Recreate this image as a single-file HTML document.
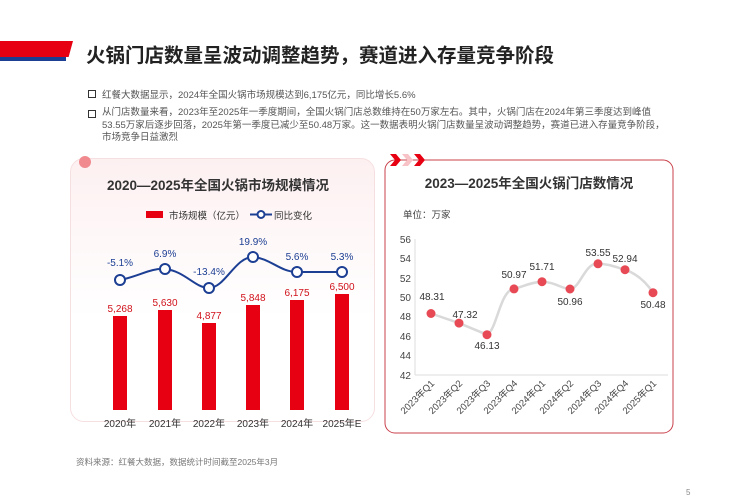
<!DOCTYPE html>
<html><head><meta charset="utf-8"><style>
body{margin:0;width:750px;height:500px;background:#fff;position:relative;overflow:hidden;font-family:"Liberation Sans","Noto Sans CJK SC",sans-serif;}
.abs{position:absolute}
.t{position:absolute;white-space:nowrap}
</style></head><body>
<div class="abs" style="left:0;top:41px;width:73px;height:16px;background:#e60012;clip-path:polygon(0 0,100% 0,94% 100%,0 100%)"></div>
<div class="abs" style="left:0;top:57px;width:66px;height:4px;background:#1c3f94"></div>
<div class="t" style="left:86px;top:39px;font-size:19.5px;font-weight:bold;color:#222">火锅门店数量呈波动调整趋势，赛道进入存量竞争阶段</div>

<div class="abs" style="left:88px;top:90px;width:6px;height:6px;border:1px solid #333"></div>
<div class="t" style="left:102px;top:87px;font-size:9.5px;color:#555">红餐大数据显示，2024年全国火锅市场规模达到6,175亿元，同比增长5.6%</div>
<div class="abs" style="left:88px;top:110px;width:6px;height:6px;border:1px solid #333"></div>
<div class="t" style="left:102px;top:107px;font-size:9.5px;color:#555;line-height:12.5px;white-space:normal;width:570px">从门店数量来看，2023年至2025年一季度期间，全国火锅门店总数维持在50万家左右。其中，火锅门店在2024年第三季度达到峰值53.55万家后逐步回落，2025年第一季度已减少至50.48万家。这一数据表明火锅门店数量呈波动调整趋势，赛道已进入存量竞争阶段，市场竞争日益激烈</div>

<!-- left card -->
<div class="abs" style="left:70px;top:158px;width:303px;height:262px;border-radius:14px;background:linear-gradient(#fdf0f1,#fff 60%);border:1px solid #f6dfe1"></div>
<div class="abs" style="left:79px;top:156px;width:12px;height:12px;border-radius:50%;background:#f08a8f"></div>
<div class="t" style="left:88px;top:174px;width:260px;text-align:center;font-size:13.5px;font-weight:bold;color:#333">2020—2025年全国火锅市场规模情况</div>
<svg class="abs" style="left:0;top:0" width="750" height="500">
<g font-family="Liberation Sans, Noto Sans CJK SC, sans-serif">
<rect x="146" y="211" width="17" height="7" fill="#e60012"/>
<text x="169" y="219" font-size="9.5" fill="#333">市场规模（亿元）</text>
<line x1="250" y1="214.5" x2="272" y2="214.5" stroke="#1c3f94" stroke-width="2"/>
<circle cx="261" cy="214.5" r="3.5" fill="#fff" stroke="#1c3f94" stroke-width="2"/>
<text x="274" y="219" font-size="9.5" fill="#333">同比变化</text>
<g fill="#e60012">
<rect x="113" y="316" width="14" height="94"/>
<rect x="158" y="310" width="14" height="100"/>
<rect x="202" y="323" width="14" height="87"/>
<rect x="246" y="305" width="14" height="105"/>
<rect x="290" y="300" width="14" height="110"/>
<rect x="335" y="294" width="14" height="116"/>
</g>
<g font-size="10" fill="#d0121b" text-anchor="middle">
<text x="120" y="312">5,268</text><text x="165" y="306">5,630</text><text x="209" y="319">4,877</text>
<text x="253" y="301">5,848</text><text x="297" y="296">6,175</text><text x="342" y="290">6,500</text>
</g>
<path d="M120 280 C140 276,150 268,165 269 C185 271,195 288,209 288 C225 288,235 257,253 257 C270 258,280 272,297 272 L342 272" fill="none" stroke="#1c3f94" stroke-width="2"/>
<g fill="#fff" stroke="#1c3f94" stroke-width="2">
<circle cx="120" cy="280" r="5"/><circle cx="165" cy="269" r="5"/><circle cx="209" cy="288" r="5"/>
<circle cx="253" cy="257" r="5"/><circle cx="297" cy="272" r="5"/><circle cx="342" cy="272" r="5"/>
</g>
<g font-size="10" fill="#1c3f94" text-anchor="middle">
<text x="120" y="266">-5.1%</text><text x="165" y="257">6.9%</text><text x="209" y="275">-13.4%</text>
<text x="253" y="245">19.9%</text><text x="297" y="260">5.6%</text><text x="342" y="260">5.3%</text>
</g>
<g font-size="10" fill="#333" text-anchor="middle">
<text x="120" y="427">2020年</text><text x="165" y="427">2021年</text><text x="209" y="427">2022年</text>
<text x="253" y="427">2023年</text><text x="297" y="427">2024年</text><text x="342" y="427">2025年E</text>
</g>
<text x="76" y="465" font-size="8.5" fill="#777">资料来源：红餐大数据，数据统计时间截至2025年3月</text>

<!-- right card -->
<rect x="385" y="160" width="288" height="273" rx="10" fill="#fff" stroke="#c9414b" stroke-width="1"/>
<g fill="#e60012"><path d="M390 154 l6 0 l5 6 l-5 6 l-6 0 l5 -6z"/><path d="M414 154 l6 0 l5 6 l-5 6 l-6 0 l5 -6z"/></g>
<path d="M402 154 l6 0 l5 6 l-5 6 l-6 0 l5 -6z" fill="#f7c3c6"/>
<text x="529" y="188" font-size="13.5" font-weight="bold" fill="#333" text-anchor="middle">2023—2025年全国火锅门店数情况</text>
<text x="403" y="218" font-size="9.5" fill="#444">单位：万家</text>
<line x1="415" y1="239" x2="415" y2="375" stroke="#ddd"/>
<line x1="415" y1="375" x2="668" y2="375" stroke="#ddd"/>
<g font-size="10" fill="#444" text-anchor="end">
<text x="411" y="243">56</text><text x="411" y="262">54</text><text x="411" y="282">52</text><text x="411" y="301">50</text>
<text x="411" y="320">48</text><text x="411" y="340">46</text><text x="411" y="359">44</text><text x="411" y="379">42</text>
</g>
<path d="M431 313.5 L459 323.1 L487 334.7 C497 330,500 290,514 288.9 C525 286,532 282,542 281.7 C555 282,562 289,570 289 C580 289,585 262,598 263.8 C610 264,615 267,625 269.7 C640 275,648 285,653 292.7" fill="none" stroke="#d9d9d9" stroke-width="2.5"/>
<g fill="#e84a55">
<circle cx="431" cy="313.5" r="4.5"/><circle cx="459" cy="323.1" r="4.5"/><circle cx="487" cy="334.7" r="4.5"/>
<circle cx="514" cy="288.9" r="4.5"/><circle cx="542" cy="281.7" r="4.5"/><circle cx="570" cy="289" r="4.5"/>
<circle cx="598" cy="263.8" r="4.5"/><circle cx="625" cy="269.7" r="4.5"/><circle cx="653" cy="292.7" r="4.5"/>
</g>
<g font-size="10" fill="#333" text-anchor="middle">
<text x="432" y="300">48.31</text><text x="465" y="318">47.32</text><text x="487" y="349">46.13</text>
<text x="514" y="278">50.97</text><text x="542" y="270">51.71</text><text x="570" y="305">50.96</text>
<text x="598" y="256">53.55</text><text x="625" y="262">52.94</text><text x="653" y="308">50.48</text>
</g>
<g font-size="9.5" fill="#444" text-anchor="end">
<text transform="translate(435,384) rotate(-45)">2023年Q1</text>
<text transform="translate(463,384) rotate(-45)">2023年Q2</text>
<text transform="translate(491,384) rotate(-45)">2023年Q3</text>
<text transform="translate(518,384) rotate(-45)">2023年Q4</text>
<text transform="translate(546,384) rotate(-45)">2024年Q1</text>
<text transform="translate(574,384) rotate(-45)">2024年Q2</text>
<text transform="translate(602,384) rotate(-45)">2024年Q3</text>
<text transform="translate(629,384) rotate(-45)">2024年Q4</text>
<text transform="translate(657,384) rotate(-45)">2025年Q1</text>
</g>
<text x="686" y="495" font-size="8" fill="#888">5</text>
</g>
</svg>
</body></html>
